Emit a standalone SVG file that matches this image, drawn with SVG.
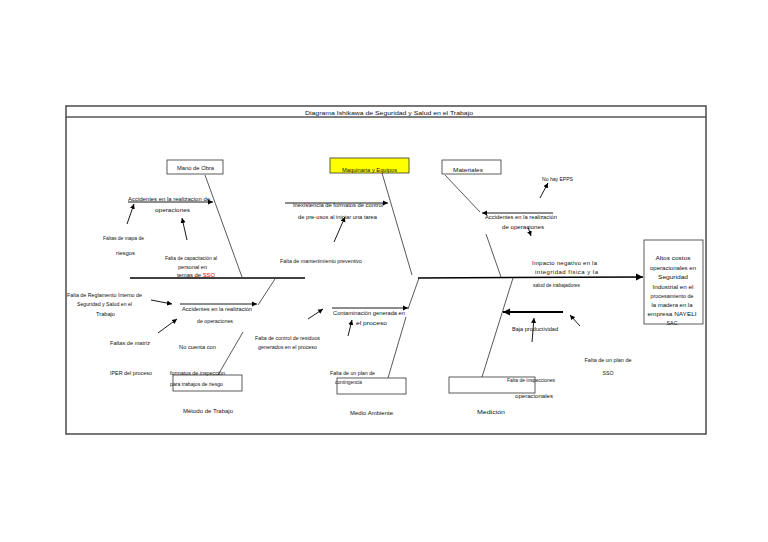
<svg xmlns="http://www.w3.org/2000/svg" width="768" height="542" viewBox="0 0 768 542">
<defs>
<marker id="ah" markerUnits="userSpaceOnUse" markerWidth="6" markerHeight="6" refX="5" refY="3" orient="auto">
<path d="M0,0.5 L5,3 L0,5.5 Z" fill="#000"/>
</marker>
<marker id="ahb" markerUnits="userSpaceOnUse" markerWidth="8" markerHeight="8" refX="7" refY="4" orient="auto">
<path d="M0,0.5 L7,4 L0,7.5 Z" fill="#000"/>
</marker>
<style>
.t{font-family:"Liberation Sans",Arial,sans-serif;font-size:6px;fill:#111}
.c{text-anchor:middle}
.bone{stroke:#111;stroke-width:0.7;fill:none}
.arr{stroke:#000;stroke-width:0.9;fill:none;marker-end:url(#ah)}
.box{fill:#fff;stroke:#333;stroke-width:0.8}
</style>
</defs>
<rect width="768" height="542" fill="#fff"/>
<g id="frame">
<rect x="66" y="106" width="640" height="328" fill="#fff" stroke="#555" stroke-width="1.6"/>
<line x1="66" y1="117" x2="706" y2="117" stroke="#555" stroke-width="1.6"/>
<text class="t" x="305" y="115" font-size="8" textLength="168" lengthAdjust="spacingAndGlyphs">Diagrama Ishikawa de Seguridad y Salud en el Trabajo</text>
</g>
<g id="connectors">
<line x1="130" y1="278" x2="305" y2="278" stroke="#000" stroke-width="1.5"/>
<line x1="418" y1="278" x2="643" y2="277" stroke="#000" stroke-width="1.5" marker-end="url(#ahb)"/>
<line class="bone" x1="205" y1="175" x2="242" y2="277"/>
<line class="bone" x1="382" y1="173" x2="412" y2="275"/>
<line class="bone" x1="445" y1="175" x2="480" y2="212"/>
<line class="bone" x1="486" y1="234" x2="501" y2="277"/>
<line class="bone" x1="275" y1="279" x2="258" y2="305"/>
<line class="bone" x1="243" y1="332" x2="218" y2="375"/>
<line class="bone" x1="419" y1="278" x2="408" y2="309"/>
<line class="bone" x1="406" y1="317" x2="388" y2="378"/>
<line class="bone" x1="513" y1="278" x2="482" y2="377"/>
<line class="arr" x1="128" y1="202" x2="213" y2="202"/>
<line class="arr" x1="127" y1="224" x2="134" y2="204"/>
<line class="arr" x1="187" y1="240" x2="182" y2="218"/>
<line class="arr" x1="151" y1="300" x2="172" y2="304"/>
<line class="arr" x1="180" y1="304" x2="257" y2="304"/>
<line class="arr" x1="158" y1="333" x2="177" y2="319"/>
<line class="arr" x1="285" y1="203" x2="388" y2="203"/>
<line class="arr" x1="334" y1="242" x2="345" y2="217"/>
<line class="arr" x1="308" y1="319" x2="323" y2="309"/>
<line class="arr" x1="332" y1="308" x2="408" y2="308"/>
<line class="arr" x1="348" y1="336" x2="352" y2="320"/>
<line class="arr" x1="540" y1="198" x2="548" y2="183"/>
<line class="arr" x1="553" y1="213" x2="482" y2="213"/>
<line class="arr" x1="528" y1="227" x2="531" y2="236"/>
<line x1="563" y1="312" x2="503" y2="312" stroke="#000" stroke-width="2" marker-end="url(#ahb)"/>
<line class="arr" x1="580" y1="326" x2="570" y2="315"/>
<line class="arr" x1="532" y1="342" x2="534" y2="318"/>
</g>
<g id="mano-de-obra">
<rect class="box" x="167" y="160" width="56" height="14"/>
<text class="t" x="177" y="170" textLength="37" lengthAdjust="spacingAndGlyphs">Mano de Obra</text>
</g>
<g id="maquinaria">
<rect x="330" y="158" width="79" height="15" fill="#ffff00" stroke="#333" stroke-width="0.8"/>
<text class="t" x="342" y="172" textLength="55" lengthAdjust="spacingAndGlyphs">Maquinaria y Equipos</text>
</g>
<g id="materiales">
<rect class="box" x="442" y="160" width="59" height="14"/>
<text class="t" x="453" y="172" textLength="30" lengthAdjust="spacingAndGlyphs">Materiales</text>
</g>
<g id="efecto">
<rect class="box" x="644" y="240" width="59" height="84"/>
<text class="t c" x="673" y="260" textLength="35" lengthAdjust="spacingAndGlyphs">Altos costos</text>
<text class="t c" x="673" y="270" textLength="46" lengthAdjust="spacingAndGlyphs">operacionales en</text>
<text class="t c" x="673" y="279" textLength="30" lengthAdjust="spacingAndGlyphs">Seguridad</text>
<text class="t c" x="673" y="289" textLength="41" lengthAdjust="spacingAndGlyphs">Industrial en el</text>
<text class="t c" x="672" y="298" textLength="43" lengthAdjust="spacingAndGlyphs">procesamiento de</text>
<text class="t c" x="672" y="307" textLength="41" lengthAdjust="spacingAndGlyphs">la madera en la</text>
<text class="t c" x="672" y="316" textLength="49" lengthAdjust="spacingAndGlyphs">empresa NAYELI</text>
<text class="t c" x="672" y="325" textLength="11" lengthAdjust="spacingAndGlyphs">SAC</text>
</g>
<g id="causas-mano-de-obra">
<text class="t" x="128" y="201" textLength="82" lengthAdjust="spacingAndGlyphs">Accidentes en la realizacion de</text>
<text class="t" x="155" y="212" textLength="35" lengthAdjust="spacingAndGlyphs">operaciones</text>
<text class="t" x="103" y="240" textLength="41" lengthAdjust="spacingAndGlyphs">Faltas de mapa de</text>
<text class="t" x="116" y="255" textLength="19" lengthAdjust="spacingAndGlyphs">riesgos</text>
<text class="t" x="165" y="260" textLength="52" lengthAdjust="spacingAndGlyphs">Falta de capacitación al</text>
<text class="t" x="178" y="269" textLength="29" lengthAdjust="spacingAndGlyphs">personal en</text>
<text class="t" x="177" y="277" textLength="38" lengthAdjust="spacingAndGlyphs">temas de <tspan fill="#e00000">SSO</tspan></text>
</g>
<g id="causas-metodo">
<text class="t" x="67" y="297" textLength="75" lengthAdjust="spacingAndGlyphs">Falta de Reglamento Interno de</text>
<text class="t" x="77" y="306" textLength="55" lengthAdjust="spacingAndGlyphs">Seguridad y Salud en el</text>
<text class="t" x="96" y="316" textLength="19" lengthAdjust="spacingAndGlyphs">Trabajo</text>
<text class="t" x="182" y="311" textLength="70" lengthAdjust="spacingAndGlyphs">Accidentes en la realización</text>
<text class="t" x="197" y="323" textLength="36" lengthAdjust="spacingAndGlyphs">de operaciones</text>
<text class="t" x="110" y="345" textLength="40" lengthAdjust="spacingAndGlyphs">Faltas de matriz</text>
<text class="t" x="179" y="349" textLength="37" lengthAdjust="spacingAndGlyphs">No cuenta con</text>
<text class="t" x="110" y="375" textLength="42" lengthAdjust="spacingAndGlyphs">IPER del proceso</text>
<rect class="box" x="173" y="375" width="69" height="16" fill="none"/>
<text class="t" x="170" y="375" textLength="55" lengthAdjust="spacingAndGlyphs">formatos de inspección</text>
<text class="t" x="170" y="386" textLength="53" lengthAdjust="spacingAndGlyphs">para trabajos de riesgo</text>
<text class="t" x="183" y="413" textLength="50" lengthAdjust="spacingAndGlyphs">Método de Trabajo</text>
</g>
<g id="causas-maquinaria">
<text class="t" x="293" y="207" textLength="90" lengthAdjust="spacingAndGlyphs">Inexistencia de formatos de control</text>
<text class="t" x="298" y="219" textLength="79" lengthAdjust="spacingAndGlyphs">de pre-usos al iniciar una tarea</text>
<text class="t" x="280" y="263" textLength="82" lengthAdjust="spacingAndGlyphs">Falta de mantenimiento preventivo</text>
</g>
<g id="causas-medio-ambiente">
<text class="t" x="255" y="340" textLength="65" lengthAdjust="spacingAndGlyphs">Falta de control de residuos</text>
<text class="t" x="258" y="349" textLength="59" lengthAdjust="spacingAndGlyphs">generados en el proceso</text>
<text class="t" x="333" y="315" textLength="72" lengthAdjust="spacingAndGlyphs">Contaminación generada en</text>
<text class="t" x="356" y="325" textLength="31" lengthAdjust="spacingAndGlyphs">el proceso</text>
<rect class="box" x="337" y="378" width="69" height="16" fill="none"/>
<text class="t" x="330" y="375" textLength="45" lengthAdjust="spacingAndGlyphs">Falta de un plan de</text>
<text class="t" x="335" y="384" textLength="27" lengthAdjust="spacingAndGlyphs">contingencia</text>
<text class="t" x="350" y="415" textLength="43" lengthAdjust="spacingAndGlyphs">Medio Ambiente</text>
</g>
<g id="causas-materiales">
<text class="t" x="542" y="181" textLength="31" lengthAdjust="spacingAndGlyphs">No hay EPPS</text>
<text class="t" x="485" y="219" textLength="72" lengthAdjust="spacingAndGlyphs">Accidentes en la realización</text>
<text class="t" x="502" y="229" textLength="42" lengthAdjust="spacingAndGlyphs">de operaciones</text>
<text class="t" x="532" y="265" font-size="5" textLength="65" lengthAdjust="spacing">Impacto negativo en la</text>
<text class="t" x="535" y="274" font-size="5" textLength="63" lengthAdjust="spacing">integridad física y la</text>
<text class="t" x="533" y="287" textLength="47" lengthAdjust="spacingAndGlyphs">salud de trabajadores</text>
</g>
<g id="causas-medicion">
<text class="t" x="512" y="331" textLength="46" lengthAdjust="spacingAndGlyphs">Baja productividad</text>
<text class="t c" x="608" y="362" textLength="47" lengthAdjust="spacingAndGlyphs">Falta de un plan de</text>
<text class="t c" x="608" y="375" textLength="11" lengthAdjust="spacingAndGlyphs">SSO</text>
<rect class="box" x="449" y="377" width="86" height="16" fill="none"/>
<text class="t" x="507" y="382" textLength="48" lengthAdjust="spacingAndGlyphs">Falta de inspecciones</text>
<text class="t" x="515" y="398" textLength="38" lengthAdjust="spacingAndGlyphs">operacionales</text>
<text class="t" x="477" y="414" textLength="28" lengthAdjust="spacingAndGlyphs">Medición</text>
</g>
</svg>
